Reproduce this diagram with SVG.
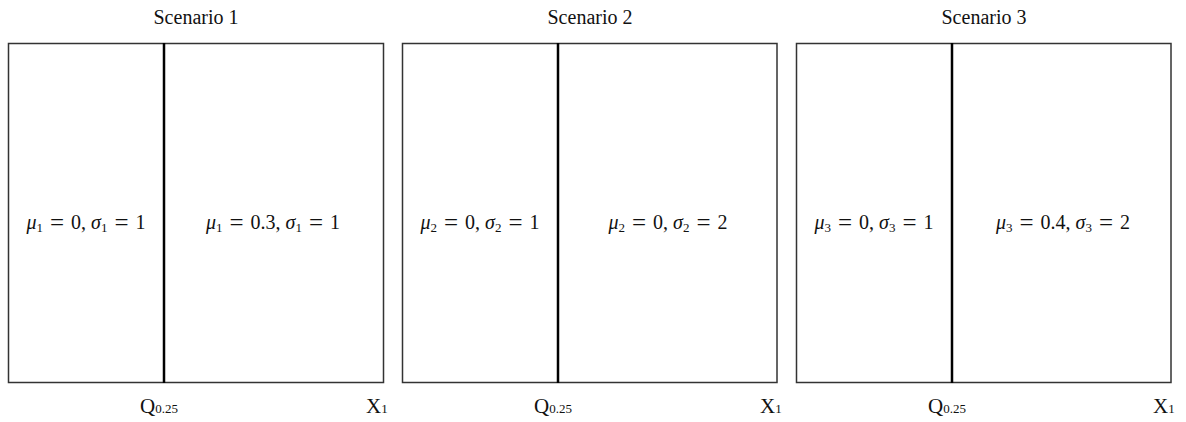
<svg xmlns="http://www.w3.org/2000/svg" width="1186" height="422" viewBox="0 0 1186 422">
<style>
.box{fill:#fff;stroke:#333;stroke-width:1.5}
.div{stroke:#000;stroke-width:2.5}
.t{font-family:"Liberation Serif","DejaVu Serif",serif;fill:#111}
.title{font-size:20px;text-anchor:middle}
.m{font-size:20px;text-anchor:middle}
.i{font-style:italic}
.s{font-size:13px}
.e{font-size:25px}
.ax{font-size:21px}
.sub{font-size:13px}
</style>
<rect width="1186" height="422" fill="#fff"/>
<g id="scenario1">
<text class="t title" x="196" y="24">Scenario 1</text>
<rect class="box" x="8.5" y="43.5" width="375" height="339"/>
<text class="t m" x="86" y="229"><tspan class="i">μ</tspan><tspan class="s" dy="3">1</tspan><tspan class="e" dy="-1.5" dx="7">=</tspan><tspan dy="-1.5" dx="7">0,</tspan><tspan class="i" dx="5">σ</tspan><tspan class="s" dy="3">1</tspan><tspan class="e" dy="-1.5" dx="7">=</tspan><tspan dy="-1.5" dx="7">1</tspan></text>
<text class="t m" x="273" y="229"><tspan class="i">μ</tspan><tspan class="s" dy="3">1</tspan><tspan class="e" dy="-1.5" dx="7">=</tspan><tspan dy="-1.5" dx="7">0.3,</tspan><tspan class="i" dx="5">σ</tspan><tspan class="s" dy="3">1</tspan><tspan class="e" dy="-1.5" dx="7">=</tspan><tspan dy="-1.5" dx="7">1</tspan></text>
<text class="t ax" x="140" y="413">Q<tspan class="sub">0.25</tspan></text>
<text class="t ax" x="366" y="413">X<tspan class="sub">1</tspan></text>
</g>
<g id="scenario2">
<text class="t title" x="590" y="24">Scenario 2</text>
<rect class="box" x="402.5" y="43.5" width="374.5" height="339"/>
<text class="t m" x="480" y="229"><tspan class="i">μ</tspan><tspan class="s" dy="3">2</tspan><tspan class="e" dy="-1.5" dx="7">=</tspan><tspan dy="-1.5" dx="7">0,</tspan><tspan class="i" dx="5">σ</tspan><tspan class="s" dy="3">2</tspan><tspan class="e" dy="-1.5" dx="7">=</tspan><tspan dy="-1.5" dx="7">1</tspan></text>
<text class="t m" x="668" y="229"><tspan class="i">μ</tspan><tspan class="s" dy="3">2</tspan><tspan class="e" dy="-1.5" dx="7">=</tspan><tspan dy="-1.5" dx="7">0,</tspan><tspan class="i" dx="5">σ</tspan><tspan class="s" dy="3">2</tspan><tspan class="e" dy="-1.5" dx="7">=</tspan><tspan dy="-1.5" dx="7">2</tspan></text>
<text class="t ax" x="534" y="413">Q<tspan class="sub">0.25</tspan></text>
<text class="t ax" x="760" y="413">X<tspan class="sub">1</tspan></text>
</g>
<g id="scenario3">
<text class="t title" x="984" y="24">Scenario 3</text>
<rect class="box" x="796.5" y="43.5" width="374.5" height="339"/>
<text class="t m" x="874" y="229"><tspan class="i">μ</tspan><tspan class="s" dy="3">3</tspan><tspan class="e" dy="-1.5" dx="7">=</tspan><tspan dy="-1.5" dx="7">0,</tspan><tspan class="i" dx="5">σ</tspan><tspan class="s" dy="3">3</tspan><tspan class="e" dy="-1.5" dx="7">=</tspan><tspan dy="-1.5" dx="7">1</tspan></text>
<text class="t m" x="1063" y="229"><tspan class="i">μ</tspan><tspan class="s" dy="3">3</tspan><tspan class="e" dy="-1.5" dx="7">=</tspan><tspan dy="-1.5" dx="7">0.4,</tspan><tspan class="i" dx="5">σ</tspan><tspan class="s" dy="3">3</tspan><tspan class="e" dy="-1.5" dx="7">=</tspan><tspan dy="-1.5" dx="7">2</tspan></text>
<text class="t ax" x="928" y="413">Q<tspan class="sub">0.25</tspan></text>
<text class="t ax" x="1153" y="413">X<tspan class="sub">1</tspan></text>
</g>
<g id="connectors">
<line class="div" x1="164" y1="43" x2="164" y2="383"/>
<line class="div" x1="558" y1="43" x2="558" y2="383"/>
<line class="div" x1="952" y1="43" x2="952" y2="383"/>
</g>
</svg>
